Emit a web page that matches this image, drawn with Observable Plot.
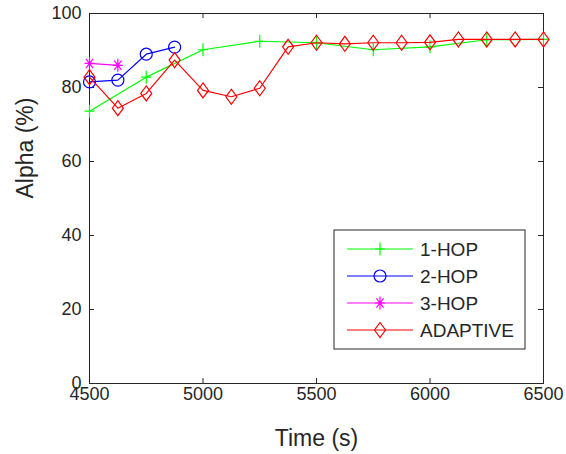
<!DOCTYPE html>
<html>
<head>
<meta charset="utf-8">
<script src="https://cdn.jsdelivr.net/npm/d3@7"></script>
<script src="https://cdn.jsdelivr.net/npm/@observablehq/plot@0.6"></script>
<style>
  html, body { margin: 0; padding: 0; background: #fff; }
  #chart { width: 566px; height: 454px; }
</style>
</head>
<body>
<div id="chart"></div>
<script>
// ---- data ----
const hop1Time  = [4500, 4750, 5000, 5250, 5500, 5750, 6000, 6250, 6500];
const hop1Alpha = [73.6, 82.8, 90.2, 92.5, 92.1, 90.2, 91.0, 92.9, 93.0];

const hop2Time  = [4500, 4625, 4750, 4875];
const hop2Alpha = [81.5, 82.0, 89.0, 90.9];

const hop3Time  = [4500, 4625];
const hop3Alpha = [86.5, 86.0];

const adaptTime  = [4500, 4625, 4750, 4875, 5000, 5125, 5250, 5375, 5500, 5625, 5750, 5875, 6000, 6125, 6250, 6375, 6500];
const adaptAlpha = [82.8, 74.4, 78.4, 87.4, 79.2, 77.5, 79.8, 91.0, 92.1, 91.8, 92.1, 92.1, 92.2, 93.0, 93.0, 93.0, 93.0];

const seriesNames = ["1-HOP", "2-HOP", "3-HOP", "ADAPTIVE"];
const seriesColors = ["#00ff00", "#0000ff", "#ff00ff", "#ff0000"];

const xTicks = [4500, 5000, 5500, 6000, 6500];
const yTicks = [0, 20, 40, 60, 80, 100];
const xLabel = "Time (s)";
const yLabel = "Alpha (%)";

// ---- marker shapes (MATLAB-like) ----
const plusSym = {draw(c) { c.moveTo(-5, 0); c.lineTo(5, 0); c.moveTo(0, -6.5); c.lineTo(0, 6.5); }};
const circSym = {draw(c) { c.moveTo(6, 0); c.arc(0, 0, 6, 0, 2 * Math.PI); }};
const starSym = {draw(c) {
  c.moveTo(-5, 0); c.lineTo(5, 0); c.moveTo(0, -6.5); c.lineTo(0, 6.5);
  c.moveTo(-3.6, -4.6); c.lineTo(3.6, 4.6); c.moveTo(-3.6, 4.6); c.lineTo(3.6, -4.6);
}};
const diamSym = {draw(c) { c.moveTo(0, -7.5); c.lineTo(5.5, 0); c.lineTo(0, 7.5); c.lineTo(-5.5, 0); c.closePath(); }};
const symbols = [plusSym, circSym, starSym, diamSym];

const toRows = (xs, ys) => xs.map((x, i) => ({x, y: ys[i]}));
const series = [
  toRows(hop1Time, hop1Alpha),
  toRows(hop2Time, hop2Alpha),
  toRows(hop3Time, hop3Alpha),
  toRows(adaptTime, adaptAlpha)
];

const W = 566, H = 454;
const mL = 89, mR = 23, mT = 13, mB = 71;
const innerW = W - mL - mR, innerH = H - mT - mB;
const tickLen = 5;
const axisColor = "#262626";
const font = "'Liberation Sans', Arial, Helvetica, sans-serif";

const marks = [
  Plot.frame({stroke: axisColor, strokeWidth: 1}),
  // inward ticks on all four sides
  Plot.ruleX(xTicks, {x: d => d, insetTop: innerH - tickLen, stroke: axisColor}),
  Plot.ruleX(xTicks, {x: d => d, insetBottom: innerH - tickLen, stroke: axisColor}),
  Plot.ruleY(yTicks, {y: d => d, insetRight: innerW - tickLen, stroke: axisColor}),
  Plot.ruleY(yTicks, {y: d => d, insetLeft: innerW - tickLen, stroke: axisColor}),
  Plot.axisX({ticks: xTicks, tickSize: 0, tickPadding: 4, fontSize: 18, fill: axisColor, label: null, tickFormat: d => String(d)}),
  Plot.axisY({ticks: yTicks, tickSize: 0, tickPadding: 8, fontSize: 18, fill: axisColor, label: null}),
  Plot.text([xLabel], {text: d => d, frameAnchor: "bottom", dy: 62, fontSize: 23, fill: axisColor, lineAnchor: "bottom"}),
  Plot.text([yLabel], {text: d => d, frameAnchor: "left", dx: -64, rotate: -90, fontSize: 23, fill: axisColor})
];
series.forEach((rows, i) => {
  marks.push(Plot.line(rows, {x: "x", y: "y", stroke: seriesColors[i], strokeWidth: 1.2}));
  marks.push(Plot.dot(rows, {x: "x", y: "y", stroke: seriesColors[i], fill: "none", strokeWidth: 1.2, symbol: symbols[i], r: 6}));
});

const svg = Plot.plot({
  width: W, height: H,
  marginLeft: mL, marginRight: mR, marginTop: mT, marginBottom: mB,
  x: {domain: [4500, 6500], axis: null},
  y: {domain: [0, 100], axis: null},
  style: {fontFamily: font, background: "#fff", overflow: "visible"},
  marks
});

// ---- legend box inside the axes (lower right) ----
const g = d3.select(svg).append("g").attr("font-family", font).attr("text-anchor", "start");
const bx = 334, by = 230, bw = 191, bh = 119;
g.append("rect").attr("x", bx).attr("y", by).attr("width", bw).attr("height", bh)
  .attr("fill", "#fff").attr("stroke", axisColor).attr("stroke-width", 1);
const rowY = [249, 276, 303, 330];
seriesNames.forEach((name, i) => {
  const y = rowY[i];
  g.append("line").attr("x1", 347).attr("x2", 413).attr("y1", y).attr("y2", y)
    .attr("stroke", seriesColors[i]).attr("stroke-width", 1.2);
  g.append("path").attr("d", d3.symbol(symbols[i], 36)()).attr("transform", `translate(380,${y})`)
    .attr("fill", "none").attr("stroke", seriesColors[i]).attr("stroke-width", 1.2);
  g.append("text").attr("x", 420).attr("y", y).attr("dy", "0.36em").attr("text-anchor", "start")
    .attr("font-size", 19).attr("fill", axisColor).text(name);
});

document.getElementById("chart").appendChild(svg);
</script>
</body>
</html>
